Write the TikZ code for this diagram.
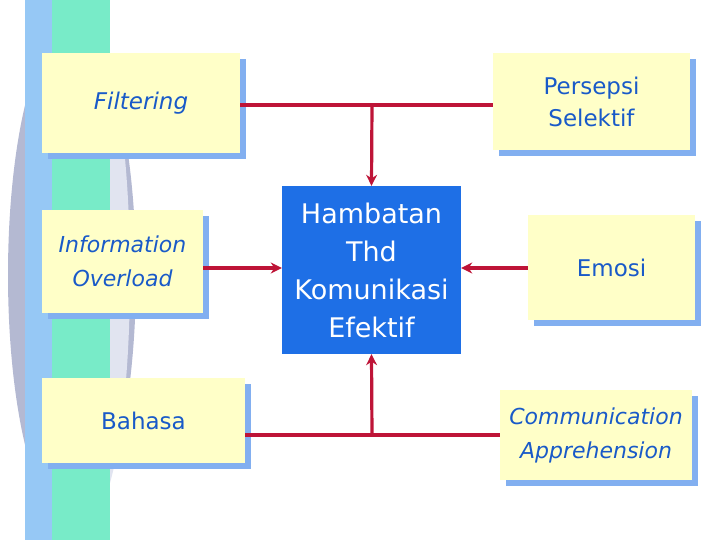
\documentclass[tikz,border=0pt]{standalone}
\usepackage{fontspec}
\usetikzlibrary{arrows.meta}
\setmainfont{DejaVu Sans}
\definecolor{txt}{RGB}{25,90,200}
\definecolor{redl}{RGB}{190,20,55}
\definecolor{boxy}{RGB}{255,255,200}
\definecolor{shadc}{RGB}{130,175,240}
\definecolor{crA}{RGB}{180,185,210}
\definecolor{crB}{RGB}{225,228,240}
\definecolor{stripG}{RGB}{120,235,200}
\definecolor{stripB}{RGB}{150,200,245}
\definecolor{hblue}{RGB}{30,111,230}
\begin{document}
\begin{tikzpicture}[x=1pt,y=-1pt,
  box/.style={fill=boxy, text=txt, align=center, font=\fontsize{23}{27}\selectfont, inner sep=0pt},
  shad/.style={fill=shadc},
  conn/.style={draw=redl, line width=3.2pt},
  arr/.style={conn, -{Stealth[length=11pt,width=11pt]}}]
\useasboundingbox (0,0) rectangle (720,540);
% decorative background
\fill[crA] (72,275) ellipse (64pt and 250pt);
\fill[crB] (90,275) ellipse (40pt and 240pt);
\fill[stripG] (25,0) rectangle (110,540);
\fill[stripB] (25,0) rectangle (52,540);
% shadows
\fill[shad] (48,59) rectangle (246,159);
\fill[shad] (48,216) rectangle (209,319);
\fill[shad] (48,384) rectangle (251,469);
\fill[shad] (499,59) rectangle (696,156);
\fill[shad] (534,221) rectangle (701,326);
\fill[shad] (506,396) rectangle (698,486);
% boxes
\node[box, minimum width=198pt, minimum height=100pt, font=\fontsize{23}{27}\selectfont\itshape] (filt) at (141,103) {Filtering};
\node[box, minimum width=161pt, minimum height=103pt, font=\fontsize{22}{34}\selectfont\itshape] (info) at (122.5,261.5) {Information\\Overload};
\node[box, minimum width=203pt, minimum height=85pt] (bah) at (143.5,420.5) {Bahasa};
\node[box, minimum width=197pt, minimum height=97pt, font=\fontsize{23}{32}\selectfont] (pers) at (591.5,101.5) {Persepsi\\Selektif};
\node[box, minimum width=167pt, minimum height=105pt] (emo) at (611.5,267.5) {Emosi};
\node[box, minimum width=192pt, minimum height=90pt, font=\fontsize{22}{34}\selectfont\itshape] (comm) at (596,435) {Communication\\Apprehension};
\node[fill=hblue, text=white, align=center, minimum width=179pt, minimum height=168pt, inner sep=0pt, font=\fontsize{27}{38}\selectfont] (ham) at (371.5,270) {Hambatan\\Thd\\Komunikasi\\Efektif};
% connectors
\coordinate (top) at (372,105);
\coordinate (bot) at (372,435);
\draw[conn] (filt.east |- top) -- (pers.west |- top);
\draw[arr] (top) -- (ham.north);
\draw[conn] (bah.east |- bot) -- (comm.west |- bot);
\draw[arr] (bot) -- (ham.south);
\draw[arr] (info.east |- 0,268) -- (ham.west |- 0,268);
\draw[arr] (emo.west |- 0,268) -- (ham.east |- 0,268);
\end{tikzpicture}
\end{document}
